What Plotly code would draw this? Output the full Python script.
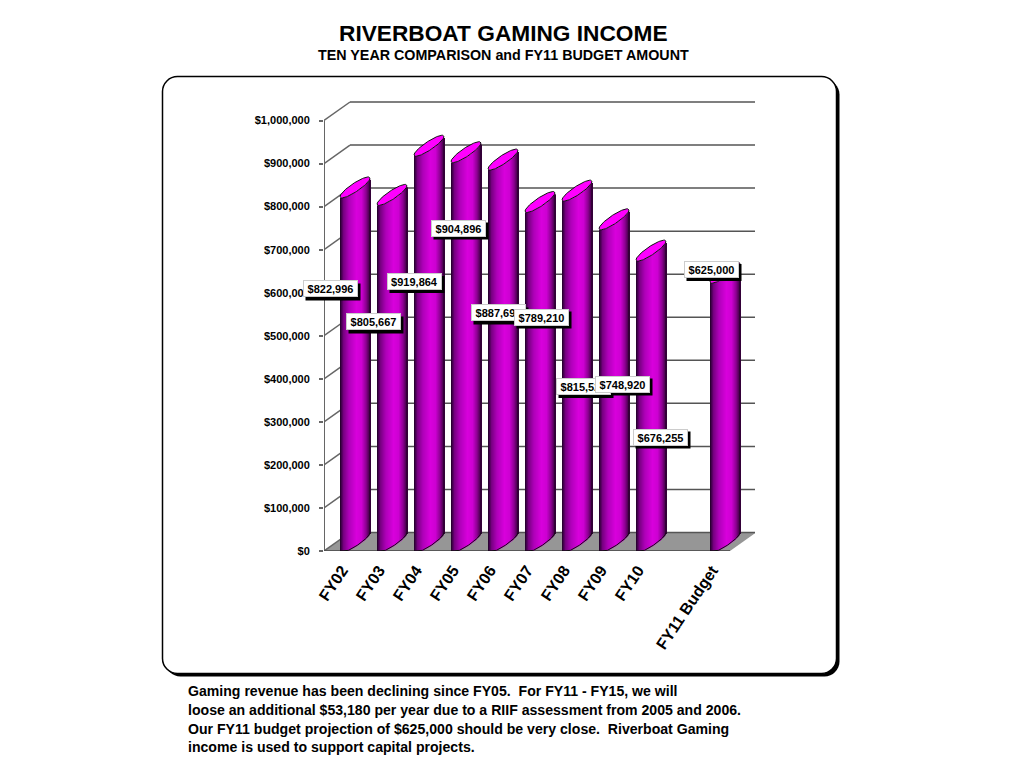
import math
import plotly.graph_objects as go

categories = ["FY02", "FY03", "FY04", "FY05", "FY06", "FY07", "FY08", "FY09", "FY10", "", "FY11 Budget"]
values = [822996, 805667, 919864, 904896, 887690, 789210, 815520, 748920, 676255, None, 625000]
y_ticks = [0, 100000, 200000, 300000, 400000, 500000, 600000, 700000, 800000, 900000, 1000000]
label_order = [0, 1, 2, 3, 4, 5, 6, 7, 8, 10]
label_centers = {0: (330, 289), 1: (373, 322), 2: (414, 281.5), 3: (458, 228), 4: (498, 313),
                 5: (541, 317), 6: (583, 386.5), 7: (622, 384), 8: (660, 437), 10: (711, 269.5)}
body_lines = ["Gaming revenue has been declining since FY05.  For FY11 - FY15, we will",
              "loose an additional $53,180 per year due to a RIIF assessment from 2005 and 2006.",
              "Our FY11 budget projection of $625,000 should be very close.  Riverboat Gaming",
              "income is used to support capital projects."]

W, H = 1024, 768
PX_X = 37.0
PX_Y = 430.5 / 1e6
X0, Y0 = 355.0, 551.0
L, R, T, B = 324.0, 755.0, 101.0, 551.0
FONT = "Liberation Sans"
xr = [(L - X0) / PX_X, (R - X0) / PX_X]
yr = [0, (B - T) / PX_Y]
DX = 26 / PX_X
DY = 18.5 / PX_Y
HALF = 15 / PX_X
SAG = 5 / PX_Y


def px(x):
    return x / W


def py(y):
    return 1 - y / H


stops = [(0, (30, 0, 35)), (0.04, (60, 0, 70)), (0.12, (120, 0, 130)), (0.3, (175, 0, 185)), (0.55, (216, 0, 220)),
         (0.72, (205, 0, 210)), (0.87, (140, 0, 145)), (0.96, (80, 0, 85)), (1, (30, 0, 35))]


def grad(t):
    for (a, ca), (b, cb) in zip(stops, stops[1:]):
        if a <= t <= b:
            f = (t - a) / (b - a)
            return "rgb(%d,%d,%d)" % tuple(round(p + (q - p) * f) for p, q in zip(ca, cb))
    return "rgb(30,0,35)"


def lower(u):
    return DY * (u + 1) / 2 - SAG * math.sqrt(max(0, 1 - u * u))


def upper(u):
    return DY * (u + 1) / 2 + SAG * math.sqrt(max(0, 1 - u * u))


fig = go.Figure()
idx = [i for i, v in enumerate(values) if v is not None]
vals = [values[i] for i in idx]
N = 30
for s in range(N):
    t = (s + 0.5) / N
    u = 2 * t - 1
    base = max(0, lower(u))
    fig.add_trace(go.Bar(x=idx, y=[v + lower(u) - base for v in vals], base=base,
                         width=(2 * HALF / N) * 1.25, offset=-HALF + 2 * HALF * s / N,
                         marker=dict(color=grad(t), line=dict(width=0)), showlegend=False, hoverinfo="skip"))

# top ellipses and outlines
for i, v in zip(idx, vals):
    us = [-1 + 2 * k / 40 for k in range(41)]
    xs = [i + HALF * u for u in us] + [i + HALF * u for u in reversed(us)]
    ys = [v + lower(u) for u in us] + [v + upper(u) for u in reversed(us)]
    fig.add_trace(go.Scatter(x=xs, y=ys, mode="lines", fill="toself", fillcolor="#ff00ff",
                             line=dict(color="#111111", width=1), showlegend=False, hoverinfo="skip"))
    fig.add_trace(go.Scatter(x=[i + HALF * u for u in us], y=[max(0, lower(u)) for u in us], mode="lines",
                             line=dict(color="#111111", width=1), showlegend=False, hoverinfo="skip"))

shapes = []
# card
for dx, fill, lw in ((3, "#000000", 0), (0, "#ffffff", 1.5)):
    x0, x1, y0, y1, r = 162.5 + dx, 836.5 + dx, 76.5 + dx, 673.5 + dx, 15
    k = 0.45 * r
    p = (f"M {px(x0 + r)} {py(y0)} L {px(x1 - r)} {py(y0)} C {px(x1 - k)} {py(y0)} {px(x1)} {py(y0 + k)} {px(x1)} {py(y0 + r)} "
         f"L {px(x1)} {py(y1 - r)} C {px(x1)} {py(y1 - k)} {px(x1 - k)} {py(y1)} {px(x1 - r)} {py(y1)} "
         f"L {px(x0 + r)} {py(y1)} C {px(x0 + k)} {py(y1)} {px(x0)} {py(y1 - k)} {px(x0)} {py(y1 - r)} "
         f"L {px(x0)} {py(y0 + r)} C {px(x0)} {py(y0 + k)} {px(x0 + k)} {py(y0)} {px(x0 + r)} {py(y0)} Z")
    shapes.append(dict(type="path", path=p, xref="paper", yref="paper", fillcolor=fill,
                       line=dict(color="#000000", width=lw), layer="below"))
# floor
xl, xe = xr[0], 10 + (730 - 725) / PX_X
fp = f"M {xl} 0 L {xe} 0 L {xe + DX} {DY} L {xl + DX} {DY} Z"
shapes.append(dict(type="path", path=fp, xref="x", yref="y", fillcolor="#969696", line=dict(width=0), layer="below"))
# walls
for v in y_ticks:
    shapes.append(dict(type="line", xref="x", yref="y", x0=xl, y0=v, x1=xl + DX, y1=v + DY,
                       line=dict(color="#666666", width=1.5), layer="below"))
    shapes.append(dict(type="line", xref="x", yref="y", x0=xl + DX, y0=v + DY, x1=xr[1], y1=v + DY,
                       line=dict(color="#555555", width=1.5), layer="below"))
shapes.append(dict(type="line", xref="x", yref="y", x0=xl, y0=0, x1=xl, y1=y_ticks[-1],
                   line=dict(color="#666666", width=2), layer="below"))
shapes.append(dict(type="line", xref="x", yref="y", x0=xl, y0=0, x1=xe, y1=0,
                   line=dict(color="#444444", width=1.5), layer="below"))
# label shadows
for i in label_order:
    cx, cy = label_centers[i]
    shapes.append(dict(type="rect", xref="paper", yref="paper", x0=px(cx - 27.5 + 3), x1=px(cx + 27.5 + 3),
                       y0=py(cy - 8.5 + 3), y1=py(cy + 8.5 + 3), fillcolor="#000000", line=dict(width=0), layer="above"))

ann = []
for i in label_order:
    cx, cy = label_centers[i]
    ann.append(dict(xref="paper", yref="paper", x=px(cx), y=py(cy), text=f"<b>${values[i]:,}</b>", showarrow=False,
                    font=dict(family=FONT, size=11, color="#000000"), bgcolor="#ffffff", bordercolor="#cccccc",
                    borderwidth=1, borderpad=1, width=51, height=13, xanchor="center", yanchor="middle"))


def text(x, y, s, size, anchor="center"):
    ann.append(dict(xref="paper", yref="paper", x=px(x), y=py(y), text=f"<b>{s}</b>", showarrow=False,
                    font=dict(family=FONT, size=size, color="#000000"), xanchor=anchor, yanchor="middle",
                    borderpad=0, borderwidth=0))


text(503.5, 33, "RIVERBOAT GAMING INCOME", 22.7)
text(503.5, 55, "TEN YEAR COMPARISON and FY11 BUDGET AMOUNT", 14.3)
for line, yy in zip(body_lines, (691, 710, 729, 747)):
    text(188, yy, line.replace("  ", "&nbsp; "), 14.1, "left")

fig.update_layout(
    width=W, height=H, margin=dict(l=0, r=0, t=0, b=0, pad=0, autoexpand=False), autosize=False,
    paper_bgcolor="#ffffff", plot_bgcolor="rgba(0,0,0,0)", barmode="overlay", showlegend=False,
    shapes=shapes, annotations=ann, font=dict(family=FONT, color="#000000"),
    xaxis=dict(domain=[px(L), px(R)], range=xr, tickmode="array", tickvals=idx,
               ticktext=[f"<b>{categories[i]}</b>" for i in idx], tickangle=-56, ticks="", showgrid=False,
               zeroline=False, showline=False, tickfont=dict(family=FONT, size=16, color="#000000"),
               ticklabelshift=-13, ticklabelstandoff=6),
    yaxis=dict(domain=[py(B), py(T)], range=yr, tickmode="array", tickvals=y_ticks,
               ticktext=[f"<b>${v:,}</b>" for v in y_ticks], ticks="outside", ticklen=4, tickcolor="#666666",
               tickwidth=1.5, showgrid=False, zeroline=False, showline=False,
               tickfont=dict(family=FONT, size=11, color="#000000"), ticklabelstandoff=7),
)
fig.write_html("out.html", config=dict(displayModeBar=False),
               post_script="document.body.style.margin='0';document.documentElement.style.overflow='hidden';")
